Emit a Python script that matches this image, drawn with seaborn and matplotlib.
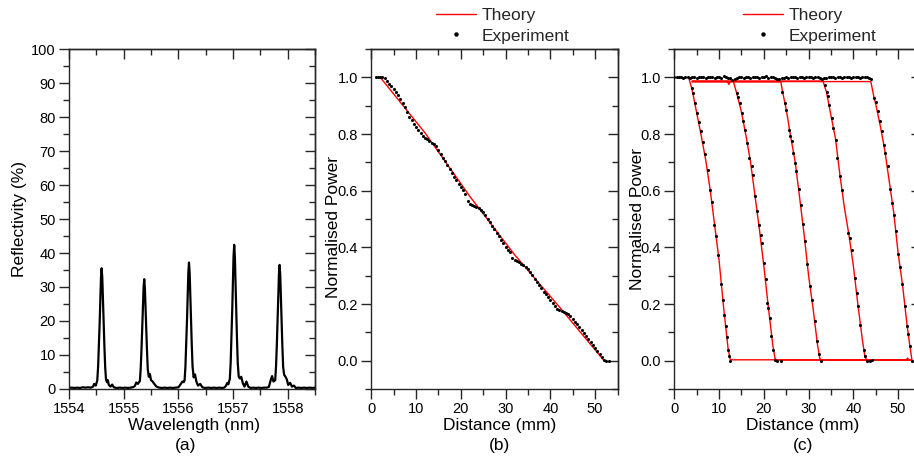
import matplotlib
matplotlib.use("Agg")
import matplotlib.pyplot as plt
import seaborn as sns
import pandas as pd
from matplotlib.ticker import MultipleLocator, FormatStrFormatter
from matplotlib.lines import Line2D

# ---------------- Panel (a): reflection spectrum (wavelength nm, reflectivity %) ----------------
a_points = [
    (1554.00, 0.3), (1554.05, 0.4), (1554.10, 0.3), (1554.15, 0.4), (1554.20, 0.3), (1554.25, 0.5),
    (1554.30, 0.4), (1554.35, 0.5), (1554.40, 0.4), (1554.44, 0.7), (1554.46, 1.5), (1554.49, 1.0),
    (1554.517, 2.5), (1554.532, 6.4), (1554.547, 12.8), (1554.561, 19.5), (1554.573, 26.3),
    (1554.585, 32.7), (1554.597, 35.5), (1554.609, 32.7), (1554.621, 26.3), (1554.633, 19.5),
    (1554.647, 12.8), (1554.662, 6.4), (1554.677, 2.8), (1554.695, 2.0), (1554.710, 2.6),
    (1554.728, 1.2), (1554.760, 0.7), (1554.790, 1.3), (1554.820, 0.5), (1554.87, 0.3),
    (1554.93, 0.4), (1554.98, 0.3), (1555.03, 0.4), (1555.08, 0.3), (1555.13, 0.4),
    (1555.18, 0.6), (1555.205, 0.9), (1555.23, 1.9), (1555.26, 1.5), (1555.28, 2.0), (1555.296, 2.3),
    (1555.311, 5.8), (1555.326, 11.6), (1555.340, 17.8), (1555.352, 23.9), (1555.364, 29.7),
    (1555.376, 32.3), (1555.388, 29.7), (1555.400, 23.9), (1555.412, 17.8), (1555.426, 11.6),
    (1555.441, 5.8), (1555.46, 3.6), (1555.48, 4.4), (1555.50, 2.6), (1555.53, 2.2), (1555.56, 1.5),
    (1555.60, 0.7), (1555.65, 0.4), (1555.70, 0.3), (1555.75, 0.4), (1555.80, 0.3), (1555.85, 0.4),
    (1555.90, 0.3), (1555.95, 0.4),
    (1556.00, 0.5), (1556.02, 0.9), (1556.045, 1.5), (1556.075, 2.2), (1556.10, 2.0), (1556.115, 2.6),
    (1556.130, 6.7), (1556.145, 13.4), (1556.159, 20.5), (1556.171, 27.5), (1556.183, 34.2),
    (1556.195, 37.2), (1556.207, 34.2), (1556.219, 27.5), (1556.231, 20.5), (1556.245, 13.4),
    (1556.26, 6.7), (1556.28, 3.4), (1556.305, 4.3), (1556.33, 2.2), (1556.36, 1.0), (1556.40, 1.5),
    (1556.44, 0.5), (1556.49, 0.3), (1556.55, 0.4), (1556.60, 0.3), (1556.65, 0.4), (1556.70, 0.3),
    (1556.75, 0.4), (1556.80, 0.3),
    (1556.84, 0.4), (1556.87, 0.9), (1556.895, 1.8), (1556.915, 1.4), (1556.942, 3.0), (1556.957, 7.6),
    (1556.972, 15.3), (1556.986, 23.3), (1556.998, 31.4), (1557.010, 39.0), (1557.022, 42.4),
    (1557.034, 39.0), (1557.046, 31.4), (1557.058, 23.3), (1557.072, 15.3), (1557.087, 7.6),
    (1557.105, 3.6), (1557.125, 3.1), (1557.15, 3.6), (1557.18, 1.7), (1557.21, 0.7), (1557.245, 2.2),
    (1557.28, 0.7), (1557.32, 0.3), (1557.37, 0.4), (1557.42, 0.3), (1557.47, 0.4), (1557.52, 0.3),
    (1557.57, 0.4),
    (1557.62, 0.4), (1557.655, 0.6), (1557.69, 2.6), (1557.715, 3.8), (1557.74, 2.2), (1557.772, 2.6),
    (1557.787, 6.6), (1557.802, 13.1), (1557.816, 20.1), (1557.828, 27.0), (1557.840, 33.6),
    (1557.852, 36.5), (1557.864, 33.6), (1557.876, 27.0), (1557.888, 20.1), (1557.902, 13.1),
    (1557.917, 6.6), (1557.935, 4.2), (1557.96, 3.6), (1557.985, 2.8), (1558.01, 1.2), (1558.045, 1.8),
    (1558.08, 0.7), (1558.115, 1.0), (1558.15, 0.3), (1558.20, 0.4), (1558.25, 0.3), (1558.30, 0.4),
    (1558.35, 0.3), (1558.40, 0.4), (1558.45, 0.3), (1558.50, 0.4),
]
a_wavelength = [p[0] for p in a_points]
a_reflectivity = [p[1] for p in a_points]

# ---------------- Panel (b) ----------------
b_theory_x = [2.0, 12.0, 22.0, 32.0, 42.0, 52.0]
b_theory_y = [1.0, 0.804, 0.580, 0.374, 0.190, 0.0]

b_exp_x = [
    1.0, 1.5, 2.0, 2.5, 3.0, 3.5, 4.0, 4.5, 5.0, 5.5, 6.0, 6.5, 7.0, 7.5, 8.0, 8.5, 9.0, 9.5,
    10.0, 10.5, 11.0, 11.5, 12.0, 12.5, 13.0, 13.5, 14.0, 14.5, 15.0, 15.5, 16.0, 16.5, 17.0,
    17.5, 18.0, 18.5, 19.0, 19.5, 20.0, 20.5, 21.0, 21.5, 22.0, 22.5, 23.0, 23.5, 24.0, 24.5,
    25.0, 25.5, 26.0, 26.5, 27.0, 27.5, 28.0, 28.5, 29.0, 29.5, 30.0, 30.5, 31.0, 31.5, 32.0,
    32.5, 33.0, 33.5, 34.0, 34.5, 35.0, 35.5, 36.0, 36.5, 37.0, 37.5, 38.0, 38.5, 39.0, 39.5,
    40.0, 40.5, 41.0, 41.5, 42.0, 42.5, 43.0, 43.5, 44.0, 44.5, 45.0, 45.5, 46.0, 46.5, 47.0,
    47.5, 48.0, 48.5, 49.0, 49.5, 50.0, 50.5, 51.0, 51.5, 52.0, 52.5, 53.0,
]
b_exp_y = [
    1.0, 1.0, 1.0, 1.0, 0.996, 0.986, 0.977, 0.969, 0.958, 0.948, 0.937, 0.925, 0.910, 0.894,
    0.876, 0.861, 0.849, 0.837, 0.826, 0.815, 0.805, 0.794, 0.786, 0.781, 0.776, 0.770, 0.764,
    0.756, 0.744, 0.731, 0.717, 0.704, 0.690, 0.677, 0.664, 0.650, 0.637, 0.624, 0.612, 0.601,
    0.590, 0.562, 0.554, 0.551, 0.547, 0.543, 0.538, 0.531, 0.523, 0.513, 0.501, 0.489, 0.476,
    0.464, 0.451, 0.439, 0.426, 0.414, 0.402, 0.392, 0.382, 0.361, 0.354, 0.351, 0.347, 0.342,
    0.336, 0.329, 0.322, 0.312, 0.301, 0.290, 0.279, 0.267, 0.256, 0.244, 0.234, 0.223, 0.213,
    0.203, 0.194, 0.183, 0.178, 0.175, 0.171, 0.168, 0.163, 0.156, 0.147, 0.138, 0.128, 0.118,
    0.108, 0.097, 0.087, 0.076, 0.066, 0.056, 0.045, 0.034, 0.023, 0.013, 0.003, 0.0, 0.0,
]

# ---------------- Panel (c) ----------------
c_theory = {
    "1": ([3.2, 4.0, 5.0, 6.0, 7.0, 8.0, 9.0, 10.0, 11.0, 12.0, 12.5, 53.0],
          [1.0, 0.955, 0.875, 0.795, 0.71, 0.605, 0.48, 0.355, 0.19, 0.045, 0.003, 0.003]),
    "2": ([4.0, 11.8, 12.2, 12.5, 13.2, 14.0, 15.0, 16.0, 17.0, 18.0, 19.0, 20.0, 21.0, 22.0, 22.5, 22.9, 53.0],
          [0.986, 0.986, 0.975, 0.986, 0.986, 0.94, 0.878, 0.795, 0.705, 0.585, 0.465, 0.335, 0.19, 0.055, 0.008, 0.002, 0.002]),
    "3": ([4.0, 23.8, 24.2, 25.0, 26.0, 27.0, 28.0, 29.0, 30.0, 31.0, 32.0, 32.5, 32.9, 52.5],
          [0.984, 0.984, 0.948, 0.887, 0.79, 0.702, 0.575, 0.445, 0.30, 0.185, 0.055, 0.008, 0.002, 0.002]),
    "4": ([4.0, 33.2, 34.0, 35.0, 36.0, 37.0, 38.0, 39.0, 40.0, 41.0, 42.0, 42.6, 43.0, 51.8, 52.1, 52.4],
          [0.987, 0.987, 0.948, 0.865, 0.785, 0.655, 0.54, 0.445, 0.335, 0.20, 0.075, 0.012, 0.003, 0.003, 0.009, 0.003]),
    "5": ([4.0, 43.9, 44.6, 45.0, 46.0, 47.0, 48.0, 49.0, 50.0, 51.0, 52.0, 52.6, 53.1],
          [0.985, 0.985, 0.93, 0.905, 0.83, 0.745, 0.635, 0.525, 0.38, 0.265, 0.125, 0.055, 0.0]),
}

c_top_x = [
    0.0, 0.5, 1.0, 1.5, 2.0, 2.5, 3.0, 3.5, 4.0, 4.5, 5.0, 5.5, 6.0, 6.5, 7.0, 7.5, 8.0, 8.5,
    9.0, 9.5, 10.0, 10.5, 11.0, 11.5, 12.0, 12.5, 13.0, 13.5, 14.0, 14.5, 15.0, 15.5, 16.0,
    16.5, 17.0, 17.5, 18.0, 18.5, 19.0, 19.5, 20.0, 20.5, 21.0, 21.5, 22.0, 22.5, 23.0, 23.5,
    24.0, 24.5, 25.0, 25.5, 26.0, 26.5, 27.0, 27.5, 28.0, 28.5, 29.0, 29.5, 30.0, 30.5, 31.0,
    31.5, 32.0, 32.5, 33.0, 33.5, 34.0, 34.5, 35.0, 35.5, 36.0, 36.5, 37.0, 37.5, 38.0, 38.5,
    39.0, 39.5, 40.0, 40.5, 41.0, 41.5, 42.0, 42.5, 43.0, 43.5, 44.0,
]
c_top_y = [
    1.0, 1.0, 1.001, 1.0, 0.999, 1.002, 1.0, 0.999, 1.0, 1.001, 0.998, 1.0, 1.002, 1.0, 0.999,
    1.001, 1.0, 1.002, 0.998, 1.0, 1.001, 0.999, 1.003, 1.0, 0.998, 0.996, 0.992, 0.995, 0.998,
    1.0, 1.001, 0.999, 1.002, 1.0, 0.999, 1.001, 1.0, 1.002, 0.998, 1.001, 1.0, 1.003, 0.999,
    1.001, 1.0, 0.997, 0.995, 0.993, 0.996, 0.998, 1.0, 0.999, 1.001, 1.0, 1.002, 0.999, 1.001,
    1.0, 0.998, 1.001, 1.002, 1.0, 0.999, 1.001, 1.0, 0.997, 0.994, 0.997, 0.999, 1.001, 1.0,
    1.002, 0.999, 1.0, 1.001, 0.998, 1.0, 1.002, 1.0, 0.999, 1.001, 1.0, 1.002, 0.999, 1.001,
    1.0, 1.002, 0.998, 0.993,
]
c_exp1_x = [3.93, 4.23, 4.67, 5.04, 5.41, 5.93, 6.38, 6.82, 7.49, 8.01, 8.45, 8.97, 9.41, 9.86,
            10.45, 10.82, 11.19, 11.49, 11.79, 12.08, 12.30, 12.52]
c_exp1_y = [0.964, 0.945, 0.908, 0.874, 0.844, 0.809, 0.772, 0.731, 0.674, 0.604, 0.559, 0.478,
            0.439, 0.372, 0.272, 0.213, 0.162, 0.121, 0.082, 0.036, 0.015, 0.0]
c_exp2_x = [13.93, 14.30, 14.67, 15.04, 15.41, 15.78, 16.30, 16.75, 17.27, 17.49, 18.01, 18.53,
            18.90, 19.27, 19.49, 19.93, 20.38, 20.82, 21.04, 21.27, 21.71, 22.08, 22.45, 23.04, 23.79]
c_exp2_y = [0.945, 0.929, 0.909, 0.874, 0.845, 0.815, 0.768, 0.715, 0.686, 0.656, 0.582, 0.527,
            0.480, 0.445, 0.415, 0.345, 0.288, 0.204, 0.186, 0.151, 0.086, 0.039, 0.004, 0.0, 0.0]
c_exp3_x = [24.16, 24.67, 25.04, 25.56, 25.90, 26.23, 26.60, 26.97, 27.27, 27.79, 28.23, 28.75,
            29.19, 29.71, 30.30, 30.75, 31.34, 31.79, 32.31, 32.75]
c_exp3_y = [0.948, 0.909, 0.886, 0.815, 0.792, 0.774, 0.733, 0.698, 0.671, 0.606, 0.551, 0.482,
            0.421, 0.342, 0.262, 0.215, 0.141, 0.068, 0.024, 0.0]
c_exp4_x = [33.64, 34.01, 34.23, 34.60, 35.12, 35.56, 36.08, 36.45, 37.04, 37.56, 38.90, 39.19,
            39.64, 40.30, 40.75, 41.12, 41.49, 42.30, 42.60, 43.04, 43.64, 44.23]
c_exp4_y = [0.974, 0.948, 0.933, 0.901, 0.856, 0.821, 0.778, 0.715, 0.651, 0.601, 0.451, 0.433,
            0.389, 0.292, 0.239, 0.194, 0.127, 0.039, 0.018, 0.0, 0.0, 0.004]
c_exp5_x = [44.60, 44.97, 45.41, 45.86, 46.30, 46.75, 47.12, 47.64, 48.23, 48.67, 49.12, 49.56,
            50.01, 50.53, 50.97, 51.56, 52.01, 52.16, 52.60, 53.12]
c_exp5_y = [0.927, 0.913, 0.880, 0.845, 0.809, 0.762, 0.733, 0.686, 0.606, 0.556, 0.513, 0.456,
            0.376, 0.331, 0.271, 0.192, 0.121, 0.094, 0.051, 0.0]

# ---------------- style ----------------
sns.set_style("ticks")
plt.rcParams['font.family'] = ['Liberation Sans', 'DejaVu Sans']
plt.rcParams['axes.linewidth'] = 1.0

W, H = 914, 458
fig = plt.figure(figsize=(W / 100, H / 100), dpi=100)
fig.patch.set_facecolor('white')

SPINE = '#262626'
TICK_FS = 10.5
LAB_FS = 12.5


def px_axes(left, top, right, bottom):
    return fig.add_axes([left / W, 1 - bottom / H, (right - left) / W, (bottom - top) / H])


def style(ax, xlim, ylim, xmaj, xmin, ymaj, ymin, xfmt, yfmt):
    ax.set_xlim(*xlim)
    ax.set_ylim(*ylim)
    ax.set_xlabel('')
    ax.set_ylabel('')
    for s in ax.spines.values():
        s.set_visible(True)
        s.set_color(SPINE)
        s.set_linewidth(1.0)
    ax.xaxis.set_major_locator(MultipleLocator(xmaj))
    ax.xaxis.set_minor_locator(MultipleLocator(xmin))
    ax.yaxis.set_major_locator(MultipleLocator(ymaj))
    ax.yaxis.set_minor_locator(MultipleLocator(ymin))
    ax.xaxis.set_major_formatter(FormatStrFormatter(xfmt))
    ax.yaxis.set_major_formatter(FormatStrFormatter(yfmt))
    ax.tick_params(which='both', direction='out', top=False, right=False,
                   color=SPINE, width=1.0, labelsize=TICK_FS, labelcolor='black')
    ax.tick_params(which='major', length=7)
    ax.tick_params(which='minor', length=4)
    ax.tick_params(axis='x', pad=2.5)
    ax.tick_params(axis='y', pad=2.5)
    sx = ax.secondary_xaxis('top')
    sx.xaxis.set_major_locator(MultipleLocator(xmaj))
    sx.xaxis.set_minor_locator(MultipleLocator(xmin))
    sx.tick_params(which='both', direction='in', labeltop=False, labelbottom=False,
                   color=SPINE, width=1.0)
    sx.tick_params(which='major', length=7)
    sx.tick_params(which='minor', length=4)
    sx.spines['top'].set_color(SPINE)
    sy = ax.secondary_yaxis('right')
    sy.yaxis.set_major_locator(MultipleLocator(ymaj))
    sy.yaxis.set_minor_locator(MultipleLocator(ymin))
    sy.tick_params(which='both', direction='in', labelright=False, labelleft=False,
                   color=SPINE, width=1.0)
    sy.tick_params(which='major', length=7)
    sy.tick_params(which='minor', length=4)
    sy.spines['right'].set_color(SPINE)


axA = px_axes(69, 49, 315, 389)
axB = px_axes(371.3, 49, 617.5, 389)
axC = px_axes(674.3, 49, 920.5, 389)

# ---- (a)
dfa = pd.DataFrame({'wl': a_wavelength, 'R': a_reflectivity})
sns.lineplot(data=dfa, x='wl', y='R', ax=axA, color='black', linewidth=1.6,
             estimator=None, sort=False)
style(axA, (1554, 1558.5), (0, 100), 1, 0.5, 10, 5, '%d', '%d')

# ---- (b)
sns.lineplot(x=b_theory_x, y=b_theory_y, ax=axB, color='red', linewidth=1.0,
             estimator=None, sort=False)
sns.scatterplot(x=b_exp_x, y=b_exp_y, ax=axB, color='black', s=5, marker='o',
                linewidth=0, zorder=3)
style(axB, (0, 55), (-0.1, 1.1), 10, 5, 0.2, 0.1, '%d', '%.1f')

# ---- (c)
for key, (tx, ty) in c_theory.items():
    sns.lineplot(x=tx, y=ty, ax=axC, color='red', linewidth=1.0, estimator=None, sort=False)
for ex, ey in [(c_top_x, c_top_y), (c_exp1_x, c_exp1_y), (c_exp2_x, c_exp2_y),
               (c_exp3_x, c_exp3_y), (c_exp4_x, c_exp4_y), (c_exp5_x, c_exp5_y)]:
    sns.scatterplot(x=ex, y=ey, ax=axC, color='black', s=5, marker='o', linewidth=0, zorder=3)
style(axC, (0, 55), (-0.1, 1.1), 10, 5, 0.2, 0.1, '%d', '%.1f')

# ---- labels
def ftext(x, y, s, **kw):
    fig.text(x / W, 1 - y / H, s, fontsize=LAB_FS, color='black', **kw)

ftext(193.5, 430, 'Wavelength (nm)', ha='center', va='baseline')
ftext(186, 450, '(a)', ha='center', va='baseline')
ftext(20, 219, 'Reflectivity (%)', ha='center', va='center', rotation=90)

ftext(500, 430, 'Distance (mm)', ha='center', va='baseline')
ftext(500, 450, '(b)', ha='center', va='baseline')
ftext(334, 227, 'Normalised Power', ha='center', va='center', rotation=90)

ftext(803, 430, 'Distance (mm)', ha='center', va='baseline')
ftext(803, 450, '(c)', ha='center', va='baseline')
ftext(637, 219, 'Normalised Power', ha='center', va='center', rotation=90)

# ---- legends
handles = [Line2D([], [], color='red', linewidth=1.0),
           Line2D([], [], color='black', marker='o', linestyle='none', markersize=2.2)]
labels = ['Theory', 'Experiment']
for lx in (436, 743):
    fig.legend(handles, labels, loc='upper left', bbox_to_anchor=(lx / W, 1 - 8 / H),
               frameon=False, fontsize=LAB_FS, handlelength=2.3, handletextpad=0.3,
               labelspacing=0.3, borderpad=0, borderaxespad=0)

fig.savefig('out.png', dpi=100, facecolor='white')
